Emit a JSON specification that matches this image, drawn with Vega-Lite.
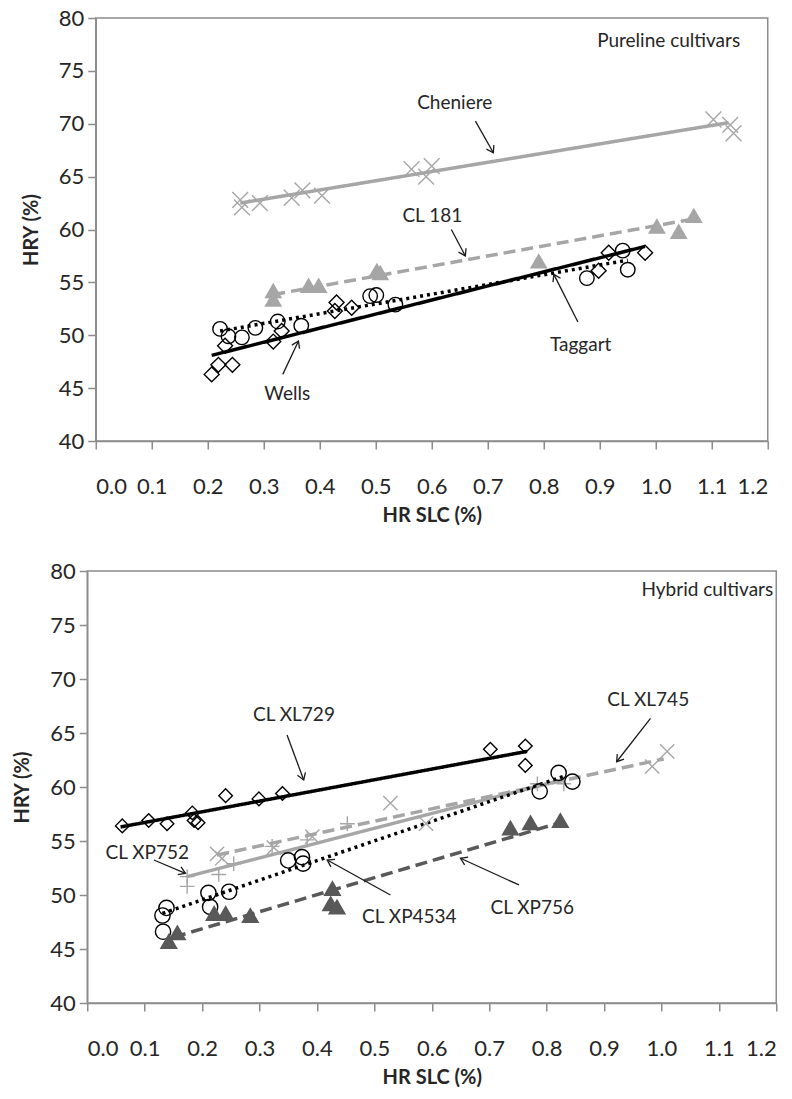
{
  "$schema": "https://vega.github.io/schema/vega-lite/v6.json",
  "background": "white",
  "padding": {"left": 11, "top": 6, "right": 0, "bottom": 0},
  "config": {
    "font": "Lato",
    "view": {"stroke": "#8c8c8c", "strokeWidth": 1.5},
    "axis": {
      "grid": false, "domainColor": "#8c8c8c", "domainWidth": 1.5, "tickColor": "#8c8c8c", "tickWidth": 1.5, "tickSize": 8,
      "labelFont": "Lato", "labelFontSize": 22, "labelColor": "#262626",
      "titleFont": "Lato", "titleFontSize": 20, "titleFontWeight": "bold", "titleColor": "#262626"
    },
    "axisX": {"labelPadding": 27, "titlePadding": 8},
    "axisY": {"labelPadding": 4, "titlePadding": 17},
    "text": {"font": "Lato", "fontSize": 19, "color": "#262626"}
  },
  "datasets": {
    "topPts": [
      {"s": "Cheniere", "x": 0.258, "y": 62.8}, {"s": "Cheniere", "x": 0.261, "y": 62.1}, {"s": "Cheniere", "x": 0.293, "y": 62.5},
      {"s": "Cheniere", "x": 0.350, "y": 63.0}, {"s": "Cheniere", "x": 0.369, "y": 63.7}, {"s": "Cheniere", "x": 0.404, "y": 63.2},
      {"s": "Cheniere", "x": 0.564, "y": 65.7}, {"s": "Cheniere", "x": 0.590, "y": 65.0}, {"s": "Cheniere", "x": 0.600, "y": 66.0},
      {"s": "Cheniere", "x": 1.103, "y": 70.4}, {"s": "Cheniere", "x": 1.133, "y": 69.9}, {"s": "Cheniere", "x": 1.139, "y": 69.1},
      {"s": "CL 181", "x": 0.317, "y": 54.2}, {"s": "CL 181", "x": 0.317, "y": 53.4}, {"s": "CL 181", "x": 0.380, "y": 54.7},
      {"s": "CL 181", "x": 0.398, "y": 54.7}, {"s": "CL 181", "x": 0.502, "y": 56.1}, {"s": "CL 181", "x": 0.508, "y": 55.9},
      {"s": "CL 181", "x": 0.791, "y": 57.0}, {"s": "CL 181", "x": 1.002, "y": 60.3}, {"s": "CL 181", "x": 1.041, "y": 59.8},
      {"s": "CL 181", "x": 1.068, "y": 61.3},
      {"s": "Wells", "x": 0.207, "y": 46.3}, {"s": "Wells", "x": 0.219, "y": 47.2}, {"s": "Wells", "x": 0.244, "y": 47.2},
      {"s": "Wells", "x": 0.231, "y": 49.0}, {"s": "Wells", "x": 0.317, "y": 49.4}, {"s": "Wells", "x": 0.332, "y": 50.4},
      {"s": "Wells", "x": 0.427, "y": 52.3}, {"s": "Wells", "x": 0.430, "y": 53.1}, {"s": "Wells", "x": 0.457, "y": 52.6},
      {"s": "Wells", "x": 0.898, "y": 56.1}, {"s": "Wells", "x": 0.916, "y": 57.8}, {"s": "Wells", "x": 0.981, "y": 57.8},
      {"s": "Taggart", "x": 0.222, "y": 50.6}, {"s": "Taggart", "x": 0.237, "y": 49.9}, {"s": "Taggart", "x": 0.261, "y": 49.8},
      {"s": "Taggart", "x": 0.285, "y": 50.7}, {"s": "Taggart", "x": 0.325, "y": 51.3}, {"s": "Taggart", "x": 0.367, "y": 50.9},
      {"s": "Taggart", "x": 0.490, "y": 53.7}, {"s": "Taggart", "x": 0.501, "y": 53.8}, {"s": "Taggart", "x": 0.535, "y": 52.9},
      {"s": "Taggart", "x": 0.877, "y": 55.4}, {"s": "Taggart", "x": 0.941, "y": 58.0}, {"s": "Taggart", "x": 0.950, "y": 56.2}
    ],
    "topLines": [
      {"s": "Cheniere", "x": 0.258, "y": 62.5}, {"s": "Cheniere", "x": 1.13, "y": 70.1},
      {"s": "CL 181", "x": 0.317, "y": 53.85}, {"s": "CL 181", "x": 1.068, "y": 61.0},
      {"s": "Wells", "x": 0.207, "y": 48.1}, {"s": "Wells", "x": 0.981, "y": 58.4},
      {"s": "Taggart", "x": 0.222, "y": 50.4}, {"s": "Taggart", "x": 0.950, "y": 57.1}
    ],
    "topText": [
      {"t": "Pureline cultivars", "x": 1.023, "y": 77.8},
      {"t": "Cheniere", "x": 0.641, "y": 72.0},
      {"t": "CL 181", "x": 0.601, "y": 61.24},
      {"t": "Wells", "x": 0.342, "y": 44.4},
      {"t": "Taggart", "x": 0.866, "y": 49.1}
    ],
    "topArrows": [
      {"x": 0.678, "y": 70.25, "x2": 0.710, "y2": 67.26},
      {"x": 0.635, "y": 60.0, "x2": 0.660, "y2": 57.5},
      {"x": 0.334, "y": 46.3, "x2": 0.362, "y2": 49.45},
      {"x": 0.861, "y": 51.25, "x2": 0.818, "y2": 55.76}
    ],
    "botPts": [
      {"s": "CL XL729", "x": 0.061, "y": 56.4}, {"s": "CL XL729", "x": 0.107, "y": 56.9}, {"s": "CL XL729", "x": 0.139, "y": 56.6},
      {"s": "CL XL729", "x": 0.183, "y": 57.6}, {"s": "CL XL729", "x": 0.186, "y": 56.9}, {"s": "CL XL729", "x": 0.193, "y": 56.7},
      {"s": "CL XL729", "x": 0.241, "y": 59.2}, {"s": "CL XL729", "x": 0.299, "y": 58.9}, {"s": "CL XL729", "x": 0.340, "y": 59.4},
      {"s": "CL XL729", "x": 0.702, "y": 63.5}, {"s": "CL XL729", "x": 0.763, "y": 63.8}, {"s": "CL XL729", "x": 0.763, "y": 62.0},
      {"s": "CL XL745", "x": 0.226, "y": 53.8}, {"s": "CL XL745", "x": 0.235, "y": 53.4}, {"s": "CL XL745", "x": 0.325, "y": 54.4},
      {"s": "CL XL745", "x": 0.392, "y": 55.4}, {"s": "CL XL745", "x": 0.528, "y": 58.5}, {"s": "CL XL745", "x": 0.590, "y": 56.6},
      {"s": "CL XL745", "x": 0.984, "y": 61.9}, {"s": "CL XL745", "x": 1.010, "y": 63.3},
      {"s": "CL XP752", "x": 0.174, "y": 50.8}, {"s": "CL XP752", "x": 0.174, "y": 51.7}, {"s": "CL XP752", "x": 0.229, "y": 51.9},
      {"s": "CL XP752", "x": 0.255, "y": 52.9}, {"s": "CL XP752", "x": 0.322, "y": 54.5}, {"s": "CL XP752", "x": 0.383, "y": 55.1},
      {"s": "CL XP752", "x": 0.453, "y": 56.6}, {"s": "CL XP752", "x": 0.784, "y": 60.3}, {"s": "CL XP752", "x": 0.830, "y": 60.3},
      {"s": "CL XP4534", "x": 0.131, "y": 48.1}, {"s": "CL XP4534", "x": 0.138, "y": 48.8}, {"s": "CL XP4534", "x": 0.132, "y": 46.6},
      {"s": "CL XP4534", "x": 0.211, "y": 50.2}, {"s": "CL XP4534", "x": 0.214, "y": 48.9}, {"s": "CL XP4534", "x": 0.247, "y": 50.3},
      {"s": "CL XP4534", "x": 0.350, "y": 53.2}, {"s": "CL XP4534", "x": 0.374, "y": 53.5}, {"s": "CL XP4534", "x": 0.376, "y": 52.9},
      {"s": "CL XP4534", "x": 0.788, "y": 59.6}, {"s": "CL XP4534", "x": 0.821, "y": 61.3}, {"s": "CL XP4534", "x": 0.845, "y": 60.5},
      {"s": "CL XP756", "x": 0.142, "y": 45.7}, {"s": "CL XP756", "x": 0.157, "y": 46.5}, {"s": "CL XP756", "x": 0.221, "y": 48.3},
      {"s": "CL XP756", "x": 0.241, "y": 48.3}, {"s": "CL XP756", "x": 0.284, "y": 48.1}, {"s": "CL XP756", "x": 0.427, "y": 50.6},
      {"s": "CL XP756", "x": 0.424, "y": 49.2}, {"s": "CL XP756", "x": 0.435, "y": 48.9}, {"s": "CL XP756", "x": 0.737, "y": 56.2},
      {"s": "CL XP756", "x": 0.772, "y": 56.7}, {"s": "CL XP756", "x": 0.824, "y": 56.9}
    ],
    "botLines": [
      {"s": "CL XL729", "x": 0.058, "y": 56.3}, {"s": "CL XL729", "x": 0.766, "y": 63.3},
      {"s": "CL XL745", "x": 0.226, "y": 53.7}, {"s": "CL XL745", "x": 1.004, "y": 62.6},
      {"s": "CL XP752", "x": 0.174, "y": 51.7}, {"s": "CL XP752", "x": 0.830, "y": 60.7},
      {"s": "CL XP4534", "x": 0.131, "y": 48.3}, {"s": "CL XP4534", "x": 0.830, "y": 61.0},
      {"s": "CL XP756", "x": 0.151, "y": 46.1}, {"s": "CL XP756", "x": 0.830, "y": 56.8}
    ],
    "botText": [
      {"t": "Hybrid cultivars", "x": 1.08, "y": 78.24},
      {"t": "CL XL729", "x": 0.360, "y": 66.67},
      {"t": "CL XL745", "x": 0.977, "y": 68.06},
      {"t": "CL XP752", "x": 0.1045, "y": 53.89},
      {"t": "CL XP4534", "x": 0.561, "y": 47.96},
      {"t": "CL XP756", "x": 0.775, "y": 48.80}
    ],
    "botArrows": [
      {"x": 0.348, "y": 64.81, "x2": 0.377, "y2": 60.65},
      {"x": 0.981, "y": 66.36, "x2": 0.922, "y2": 62.34},
      {"x": 0.116, "y": 53.24, "x2": 0.171, "y2": 52.01},
      {"x": 0.528, "y": 50.0, "x2": 0.418, "y2": 53.24},
      {"x": 0.752, "y": 50.93, "x2": 0.650, "y2": 53.4}
    ]
  },
  "center": true,
  "spacing": 33,
  "resolve": {"scale": {"x": "independent", "y": "independent", "stroke": "independent", "fill": "independent", "shape": "independent", "size": "independent", "strokeDash": "independent"}},
  "vconcat": [
    {
      "width": 672, "height": 423,
      "layer": [
        {
          "data": {"name": "topLines"},
          "mark": {"type": "line", "strokeWidth": 3.5},
          "encoding": {
            "x": {"field": "x", "type": "quantitative", "scale": {"domain": [0, 1.2], "nice": false, "zero": false},
                  "axis": {"title": "HR SLC (%)", "values": [0, 0.1, 0.2, 0.3, 0.4, 0.5, 0.6, 0.7, 0.8, 0.9, 1.0, 1.1, 1.2], "format": ".1f"}},
            "y": {"field": "y", "type": "quantitative", "scale": {"domain": [40, 80], "nice": false, "zero": false},
                  "axis": {"title": "HRY (%)", "values": [40, 45, 50, 55, 60, 65, 70, 75, 80]}},
            "stroke": {"field": "s", "type": "nominal", "legend": null,
                       "scale": {"domain": ["Cheniere", "CL 181", "Wells", "Taggart"], "range": ["#a6a6a6", "#a6a6a6", "#000000", "#000000"]}},
            "strokeDash": {"field": "s", "type": "nominal", "legend": null,
                           "scale": {"domain": ["Cheniere", "CL 181", "Wells", "Taggart"], "range": [[1, 0], [12, 6], [1, 0], [3, 4]]}}
          }
        },
        {
          "data": {"name": "topPts"},
          "mark": {"type": "point", "strokeWidth": 1.4, "opacity": 1},
          "encoding": {
            "x": {"field": "x", "type": "quantitative"},
            "y": {"field": "y", "type": "quantitative"},
            "stroke": {"field": "s", "type": "nominal", "legend": null,
                       "scale": {"domain": ["Cheniere", "CL 181", "Wells", "Taggart"], "range": ["#a6a6a6", "#a6a6a6", "#000000", "#000000"]}},
            "fill": {"field": "s", "type": "nominal", "legend": null,
                     "scale": {"domain": ["Cheniere", "CL 181", "Wells", "Taggart"], "range": ["transparent", "#a6a6a6", "transparent", "transparent"]}},
            "shape": {"field": "s", "type": "nominal", "legend": null,
                      "scale": {"domain": ["Cheniere", "CL 181", "Wells", "Taggart"], "range": ["M-1,-1L1,1M-1,1L1,-1", "triangle-up", "diamond", "circle"]}},
            "size": {"field": "s", "type": "nominal", "legend": null,
                     "scale": {"domain": ["Cheniere", "CL 181", "Wells", "Taggart"], "range": [250, 210, 185, 215]}}
          }
        },
        {
          "data": {"name": "topText"},
          "mark": {"type": "text"},
          "encoding": {
            "x": {"field": "x", "type": "quantitative"},
            "y": {"field": "y", "type": "quantitative"},
            "text": {"field": "t"}
          }
        },
        {
          "data": {"name": "topArrows"},
          "mark": {"type": "rule", "color": "#1a1a1a", "strokeWidth": 1.3},
          "encoding": {
            "x": {"field": "x", "type": "quantitative"},
            "y": {"field": "y", "type": "quantitative"},
            "x2": {"field": "x2"},
            "y2": {"field": "y2"}
          }
        },
        {
          "data": {"name": "topArrows"},
          "transform": [{"calculate": "atan2(-(datum.y2 - datum.y) * 423 / 40, (datum.x2 - datum.x) * 672 / 1.2) * 180 / PI", "as": "ang"}],
          "mark": {"type": "point", "shape": "M-1,-0.65L0,0L-1,0.65", "filled": false, "stroke": "#1a1a1a", "strokeWidth": 1.3, "size": 170, "opacity": 1},
          "encoding": {
            "x": {"field": "x2", "type": "quantitative"},
            "y": {"field": "y2", "type": "quantitative"},
            "angle": {"field": "ang", "type": "quantitative", "scale": null}
          }
        }
      ]
    },
    {
      "width": 689, "height": 432,
      "layer": [
        {
          "data": {"name": "botLines"},
          "mark": {"type": "line", "strokeWidth": 3.5},
          "encoding": {
            "x": {"field": "x", "type": "quantitative", "scale": {"domain": [0, 1.2], "nice": false, "zero": false},
                  "axis": {"title": "HR SLC (%)", "values": [0, 0.1, 0.2, 0.3, 0.4, 0.5, 0.6, 0.7, 0.8, 0.9, 1.0, 1.1, 1.2], "format": ".1f"}},
            "y": {"field": "y", "type": "quantitative", "scale": {"domain": [40, 80], "nice": false, "zero": false},
                  "axis": {"title": "HRY (%)", "values": [40, 45, 50, 55, 60, 65, 70, 75, 80]}},
            "stroke": {"field": "s", "type": "nominal", "legend": null,
                       "scale": {"domain": ["CL XL729", "CL XL745", "CL XP752", "CL XP4534", "CL XP756"], "range": ["#000000", "#a6a6a6", "#a6a6a6", "#000000", "#595959"]}},
            "strokeDash": {"field": "s", "type": "nominal", "legend": null,
                           "scale": {"domain": ["CL XL729", "CL XL745", "CL XP752", "CL XP4534", "CL XP756"], "range": [[1, 0], [12, 6], [1, 0], [3, 4], [12, 6]]}}
          }
        },
        {
          "data": {"name": "botPts"},
          "mark": {"type": "point", "strokeWidth": 1.4, "opacity": 1},
          "encoding": {
            "x": {"field": "x", "type": "quantitative"},
            "y": {"field": "y", "type": "quantitative"},
            "stroke": {"field": "s", "type": "nominal", "legend": null,
                       "scale": {"domain": ["CL XL729", "CL XL745", "CL XP752", "CL XP4534", "CL XP756"], "range": ["#000000", "#a6a6a6", "#a6a6a6", "#000000", "#595959"]}},
            "fill": {"field": "s", "type": "nominal", "legend": null,
                     "scale": {"domain": ["CL XL729", "CL XL745", "CL XP752", "CL XP4534", "CL XP756"], "range": ["transparent", "transparent", "transparent", "transparent", "#595959"]}},
            "shape": {"field": "s", "type": "nominal", "legend": null,
                      "scale": {"domain": ["CL XL729", "CL XL745", "CL XP752", "CL XP4534", "CL XP756"], "range": ["diamond", "M-1,-1L1,1M-1,1L1,-1", "M-1,0L1,0M0,-1L0,1", "circle", "triangle-up"]}},
            "size": {"field": "s", "type": "nominal", "legend": null,
                     "scale": {"domain": ["CL XL729", "CL XL745", "CL XP752", "CL XP4534", "CL XP756"], "range": [185, 250, 230, 215, 210]}}
          }
        },
        {
          "data": {"name": "botText"},
          "mark": {"type": "text"},
          "encoding": {
            "x": {"field": "x", "type": "quantitative"},
            "y": {"field": "y", "type": "quantitative"},
            "text": {"field": "t"}
          }
        },
        {
          "data": {"name": "botArrows"},
          "mark": {"type": "rule", "color": "#1a1a1a", "strokeWidth": 1.3},
          "encoding": {
            "x": {"field": "x", "type": "quantitative"},
            "y": {"field": "y", "type": "quantitative"},
            "x2": {"field": "x2"},
            "y2": {"field": "y2"}
          }
        },
        {
          "data": {"name": "botArrows"},
          "transform": [{"calculate": "atan2(-(datum.y2 - datum.y) * 432 / 40, (datum.x2 - datum.x) * 689 / 1.2) * 180 / PI", "as": "ang"}],
          "mark": {"type": "point", "shape": "M-1,-0.65L0,0L-1,0.65", "filled": false, "stroke": "#1a1a1a", "strokeWidth": 1.3, "size": 170, "opacity": 1},
          "encoding": {
            "x": {"field": "x2", "type": "quantitative"},
            "y": {"field": "y2", "type": "quantitative"},
            "angle": {"field": "ang", "type": "quantitative", "scale": null}
          }
        }
      ]
    }
  ]
}
